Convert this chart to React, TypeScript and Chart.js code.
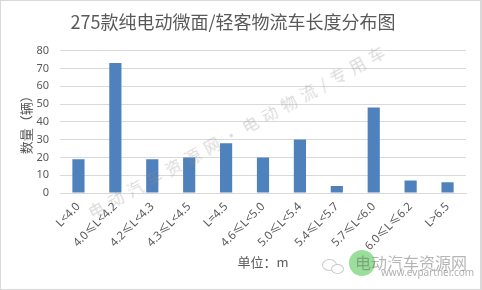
import React, { useEffect, useRef } from "react";
import { Chart, registerables } from "chart.js";

Chart.register(...registerables);

const categories = [
  "L<4.0",
  "4.0≤L<4.2",
  "4.2≤L<4.3",
  "4.3≤L<4.5",
  "L=4.5",
  "4.6≤L<5.0",
  "5.0≤L<5.4",
  "5.4≤L<5.7",
  "5.7≤L<6.0",
  "6.0≤L≤6.2",
  "L>6.5",
];
const counts = [19, 73, 19, 20, 28, 20, 30, 4, 48, 7, 6];
const titleText = "275款纯电动微面/轻客物流车长度分布图";
const yTitle = "数量（辆）";
const xTitle = "单位：m";
const watermark = "电动汽车资源网•电动物流/专用车";
const logoName = "电动汽车资源网";
const logoUrl = "www.evpartner.com";

const GRAY = "#595959";
const GRID = "#d9d9d9";
const FONT = "'Noto Sans', 'Noto Sans CJK SC', sans-serif";
const CJK = "'Noto Sans CJK SC', 'Noto Sans', sans-serif";

export default function App() {
  const ref = useRef<HTMLCanvasElement | null>(null);

  useEffect(() => {
    document.body.style.margin = "0";
    const ctx = ref.current;
    if (!ctx) return;
    const chart = new Chart(ctx, {
      type: "bar",
      data: {
        labels: categories,
        datasets: [
          {
            data: counts,
            backgroundColor: "#4F81BD",
            borderWidth: 0,
            barPercentage: 0.33,
            categoryPercentage: 1,
          },
        ],
      },
      options: {
        animation: false,
        responsive: false,
        maintainAspectRatio: false,
        layout: { padding: { left: 0, right: 16, top: 0, bottom: 0 } },
        plugins: {
          legend: { display: false },
          tooltip: { enabled: false },
          title: {
            display: true,
            text: titleText,
            color: GRAY,
            font: { family: CJK, size: 18, weight: "normal" },
            padding: { top: 11, bottom: 18 },
          },
        },
        scales: {
          x: {
            grid: { display: false, drawTicks: false },
            border: { display: true, color: GRID, width: 1 },
            ticks: {
              color: GRAY,
              font: { family: FONT, size: 11.5 },
              maxRotation: 45,
              minRotation: 45,
              autoSkip: false,
              padding: 7,
            },
            title: {
              display: true,
              text: xTitle,
              color: GRAY,
              font: { family: CJK, size: 13 },
              padding: { top: 0, bottom: 20 },
            },
            afterFit: (s: any) => {
              s.height = 97;
            },
          },
          y: {
            min: 0,
            max: 80,
            grid: { color: GRID, drawTicks: false, lineWidth: 1 },
            border: { display: false },
            ticks: {
              stepSize: 10,
              color: GRAY,
              font: { family: FONT, size: 11 },
              padding: 11,
            },
            title: {
              display: true,
              text: yTitle,
              color: GRAY,
              font: { family: CJK, size: 13 },
              padding: { top: 18, bottom: 0 },
            },
            afterFit: (s: any) => {
              s.width = 60;
            },
          },
        },
      },
    });
    return () => chart.destroy();
  }, []);

  return (
    <div
      style={{
        position: "fixed",
        left: 0,
        top: 0,
        width: 482,
        height: 290,
        background: "#fff",
        overflow: "hidden",
      }}
    >
      <canvas ref={ref} width={482} height={290} style={{ display: "block" }} />
      <div
        style={{
          position: "absolute",
          left: 89,
          top: 203,
          transformOrigin: "0 50%",
          transform: "rotate(-29deg)",
          whiteSpace: "nowrap",
          fontFamily: CJK,
          fontSize: 16,
          lineHeight: "20px",
          letterSpacing: 6,
          color: "rgba(140,140,140,0.33)",
          pointerEvents: "none",
        }}
      >
        {watermark}
      </div>
      {/* bottom-right logo watermark */}
      <div
        style={{
          position: "absolute",
          left: 322,
          top: 259,
          width: 13,
          height: 10,
          borderRadius: "50%",
          border: "1px solid rgba(120,120,120,0.4)",
          pointerEvents: "none",
        }}
      />
      <div
        style={{
          position: "absolute",
          left: 331,
          top: 264,
          width: 11,
          height: 8,
          borderRadius: "50%",
          border: "1px solid rgba(120,120,120,0.4)",
          background: "#fff",
          pointerEvents: "none",
        }}
      />
      <div
        style={{
          position: "absolute",
          left: 349,
          top: 250,
          width: 26,
          height: 26,
          borderRadius: "50%",
          background: "rgba(110,210,110,0.7)",
          pointerEvents: "none",
        }}
      />
      <div
        style={{
          position: "absolute",
          left: 355,
          top: 253,
          width: 115,
          whiteSpace: "nowrap",
          fontFamily: CJK,
          fontSize: 16,
          lineHeight: "18px",
          color: "rgba(90,90,90,0.45)",
          pointerEvents: "none",
        }}
      >
        {logoName}
      </div>
      <div
        style={{
          position: "absolute",
          left: 381,
          top: 267,
          whiteSpace: "nowrap",
          fontFamily: FONT,
          fontSize: 10,
          lineHeight: "11px",
          color: "rgba(110,110,110,0.55)",
          pointerEvents: "none",
        }}
      >
        {logoUrl}
      </div>
      <div
        style={{
          position: "absolute",
          left: 0,
          top: 0,
          width: 482,
          height: 290,
          boxSizing: "border-box",
          border: `1px solid ${GRID}`,
          borderRight: `2px solid ${GRID}`,
          pointerEvents: "none",
        }}
      />
    </div>
  );
}
